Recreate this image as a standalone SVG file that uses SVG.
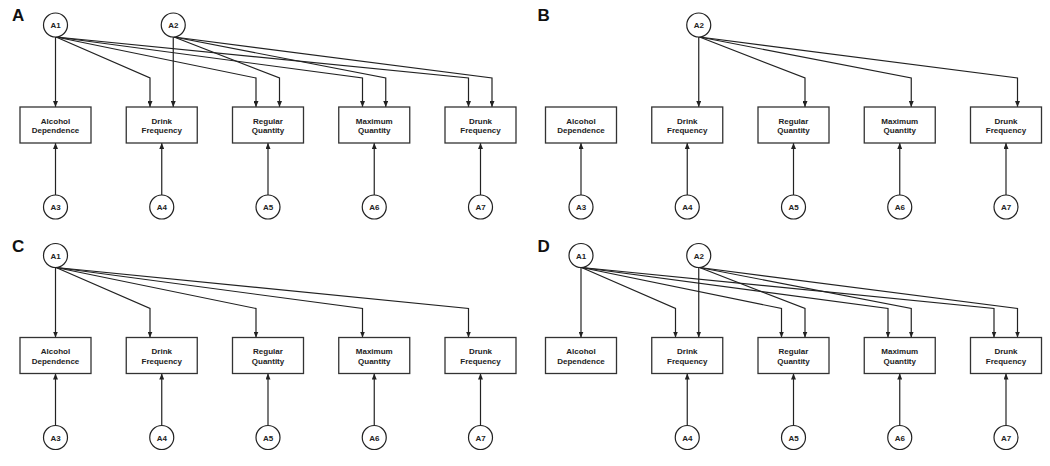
<svg xmlns="http://www.w3.org/2000/svg" width="1050" height="466" viewBox="0 0 1050 466">
<style>
.bg{fill:#fff}
.box{fill:#fff;stroke:#333;stroke-width:1.3}
.lat{fill:#fff;stroke:#222;stroke-width:1.2}
.t{font-family:"Liberation Sans",Arial,sans-serif;font-weight:bold;font-size:8px;fill:#222;text-anchor:middle}
.pl{font-family:"Liberation Sans",Arial,sans-serif;font-weight:bold;font-size:17px;fill:#111}
.c{fill:none;stroke:#222;stroke-width:1.2;marker-end:url(#arr)}
</style>
<defs>
<marker id="arr" viewBox="0 0 6 5" refX="6" refY="2.5" markerWidth="6" markerHeight="5" markerUnits="userSpaceOnUse" orient="auto"><path d="M0,0 L6,2.5 L0,5 z" fill="#222"/></marker>
</defs>
<rect class="bg" x="0" y="0" width="1050" height="466"/>

<!-- Panel A -->
<g id="panelA">
<text class="pl" x="12" y="21">A</text>
<g id="A-connectors">
<path class="c" d="M55.5,37 V107"/>
<path class="c" d="M56,37 L150,78 V107"/>
<path class="c" d="M56,37 L256,78 V107"/>
<path class="c" d="M56,37 L362.5,78 V107"/>
<path class="c" d="M56,37 L468.5,78 V107"/>
<path class="c" d="M173.25,37 V107"/>
<path class="c" d="M174,37 L279.5,78 V107"/>
<path class="c" d="M174,37 L385.75,78 V107"/>
<path class="c" d="M174,37 L492,78 V107"/>
<path class="c" d="M55.5,195 V143"/>
<path class="c" d="M161.75,195 V143"/>
<path class="c" d="M268,195 V143"/>
<path class="c" d="M374.25,195 V143"/>
<path class="c" d="M480.5,195 V143"/>
</g>
<g id="A-A1"><circle class="lat" cx="55.5" cy="25" r="12"/><text class="t" x="55.5" y="28">A1</text></g>
<g id="A-A2"><circle class="lat" cx="173.25" cy="25" r="12"/><text class="t" x="173.25" y="28">A2</text></g>
<g id="A-AD"><rect class="box" x="20" y="107" width="71" height="36"/><text class="t" x="55.5" y="123.5">Alcohol</text><text class="t" x="55.5" y="133">Dependence</text></g>
<g id="A-DF"><rect class="box" x="126.25" y="107" width="71" height="36"/><text class="t" x="161.75" y="123.5">Drink</text><text class="t" x="161.75" y="133">Frequency</text></g>
<g id="A-RQ"><rect class="box" x="232.5" y="107" width="71" height="36"/><text class="t" x="268" y="123.5">Regular</text><text class="t" x="268" y="133">Quantity</text></g>
<g id="A-MQ"><rect class="box" x="338.75" y="107" width="71" height="36"/><text class="t" x="374.25" y="123.5">Maximum</text><text class="t" x="374.25" y="133">Quantity</text></g>
<g id="A-DrF"><rect class="box" x="445" y="107" width="71" height="36"/><text class="t" x="480.5" y="123.5">Drunk</text><text class="t" x="480.5" y="133">Frequency</text></g>
<g id="A-A3"><circle class="lat" cx="55.5" cy="207" r="12"/><text class="t" x="55.5" y="210">A3</text></g>
<g id="A-A4"><circle class="lat" cx="161.75" cy="207" r="12"/><text class="t" x="161.75" y="210">A4</text></g>
<g id="A-A5"><circle class="lat" cx="268" cy="207" r="12"/><text class="t" x="268" y="210">A5</text></g>
<g id="A-A6"><circle class="lat" cx="374.25" cy="207" r="12"/><text class="t" x="374.25" y="210">A6</text></g>
<g id="A-A7"><circle class="lat" cx="480.5" cy="207" r="12"/><text class="t" x="480.5" y="210">A7</text></g>
</g>

<!-- Panel B -->
<g id="panelB" transform="translate(525.5,0)">
<text class="pl" x="12" y="21">B</text>
<g id="B-connectors">
<path class="c" d="M173.25,37 V107"/>
<path class="c" d="M174,37 L279.5,78 V107"/>
<path class="c" d="M174,37 L385.75,78 V107"/>
<path class="c" d="M174,37 L492,78 V107"/>
<path class="c" d="M55.5,195 V143"/>
<path class="c" d="M161.75,195 V143"/>
<path class="c" d="M268,195 V143"/>
<path class="c" d="M374.25,195 V143"/>
<path class="c" d="M480.5,195 V143"/>
</g>
<g id="B-A2"><circle class="lat" cx="173.25" cy="25" r="12"/><text class="t" x="173.25" y="28">A2</text></g>
<g id="B-AD"><rect class="box" x="20" y="107" width="71" height="36"/><text class="t" x="55.5" y="123.5">Alcohol</text><text class="t" x="55.5" y="133">Dependence</text></g>
<g id="B-DF"><rect class="box" x="126.25" y="107" width="71" height="36"/><text class="t" x="161.75" y="123.5">Drink</text><text class="t" x="161.75" y="133">Frequency</text></g>
<g id="B-RQ"><rect class="box" x="232.5" y="107" width="71" height="36"/><text class="t" x="268" y="123.5">Regular</text><text class="t" x="268" y="133">Quantity</text></g>
<g id="B-MQ"><rect class="box" x="338.75" y="107" width="71" height="36"/><text class="t" x="374.25" y="123.5">Maximum</text><text class="t" x="374.25" y="133">Quantity</text></g>
<g id="B-DrF"><rect class="box" x="445" y="107" width="71" height="36"/><text class="t" x="480.5" y="123.5">Drunk</text><text class="t" x="480.5" y="133">Frequency</text></g>
<g id="B-A3"><circle class="lat" cx="55.5" cy="207" r="12"/><text class="t" x="55.5" y="210">A3</text></g>
<g id="B-A4"><circle class="lat" cx="161.75" cy="207" r="12"/><text class="t" x="161.75" y="210">A4</text></g>
<g id="B-A5"><circle class="lat" cx="268" cy="207" r="12"/><text class="t" x="268" y="210">A5</text></g>
<g id="B-A6"><circle class="lat" cx="374.25" cy="207" r="12"/><text class="t" x="374.25" y="210">A6</text></g>
<g id="B-A7"><circle class="lat" cx="480.5" cy="207" r="12"/><text class="t" x="480.5" y="210">A7</text></g>
</g>

<!-- Panel C -->
<g id="panelC" transform="translate(0,230.5)">
<text class="pl" x="12" y="21">C</text>
<g id="C-connectors">
<path class="c" d="M55.5,37 V107"/>
<path class="c" d="M56,37 L150,78 V107"/>
<path class="c" d="M56,37 L256,78 V107"/>
<path class="c" d="M56,37 L362.5,78 V107"/>
<path class="c" d="M56,37 L468.5,78 V107"/>
<path class="c" d="M55.5,195 V143"/>
<path class="c" d="M161.75,195 V143"/>
<path class="c" d="M268,195 V143"/>
<path class="c" d="M374.25,195 V143"/>
<path class="c" d="M480.5,195 V143"/>
</g>
<g id="C-A1"><circle class="lat" cx="55.5" cy="25" r="12"/><text class="t" x="55.5" y="28">A1</text></g>
<g id="C-AD"><rect class="box" x="20" y="107" width="71" height="36"/><text class="t" x="55.5" y="123.5">Alcohol</text><text class="t" x="55.5" y="133">Dependence</text></g>
<g id="C-DF"><rect class="box" x="126.25" y="107" width="71" height="36"/><text class="t" x="161.75" y="123.5">Drink</text><text class="t" x="161.75" y="133">Frequency</text></g>
<g id="C-RQ"><rect class="box" x="232.5" y="107" width="71" height="36"/><text class="t" x="268" y="123.5">Regular</text><text class="t" x="268" y="133">Quantity</text></g>
<g id="C-MQ"><rect class="box" x="338.75" y="107" width="71" height="36"/><text class="t" x="374.25" y="123.5">Maximum</text><text class="t" x="374.25" y="133">Quantity</text></g>
<g id="C-DrF"><rect class="box" x="445" y="107" width="71" height="36"/><text class="t" x="480.5" y="123.5">Drunk</text><text class="t" x="480.5" y="133">Frequency</text></g>
<g id="C-A3"><circle class="lat" cx="55.5" cy="207" r="12"/><text class="t" x="55.5" y="210">A3</text></g>
<g id="C-A4"><circle class="lat" cx="161.75" cy="207" r="12"/><text class="t" x="161.75" y="210">A4</text></g>
<g id="C-A5"><circle class="lat" cx="268" cy="207" r="12"/><text class="t" x="268" y="210">A5</text></g>
<g id="C-A6"><circle class="lat" cx="374.25" cy="207" r="12"/><text class="t" x="374.25" y="210">A6</text></g>
<g id="C-A7"><circle class="lat" cx="480.5" cy="207" r="12"/><text class="t" x="480.5" y="210">A7</text></g>
</g>

<!-- Panel D -->
<g id="panelD" transform="translate(525.5,230.5)">
<text class="pl" x="12" y="21">D</text>
<g id="D-connectors">
<path class="c" d="M55.5,37 V107"/>
<path class="c" d="M56,37 L150,78 V107"/>
<path class="c" d="M56,37 L256,78 V107"/>
<path class="c" d="M56,37 L362.5,78 V107"/>
<path class="c" d="M56,37 L468.5,78 V107"/>
<path class="c" d="M173.25,37 V107"/>
<path class="c" d="M174,37 L279.5,78 V107"/>
<path class="c" d="M174,37 L385.75,78 V107"/>
<path class="c" d="M174,37 L492,78 V107"/>
<path class="c" d="M161.75,195 V143"/>
<path class="c" d="M268,195 V143"/>
<path class="c" d="M374.25,195 V143"/>
<path class="c" d="M480.5,195 V143"/>
</g>
<g id="D-A1"><circle class="lat" cx="55.5" cy="25" r="12"/><text class="t" x="55.5" y="28">A1</text></g>
<g id="D-A2"><circle class="lat" cx="173.25" cy="25" r="12"/><text class="t" x="173.25" y="28">A2</text></g>
<g id="D-AD"><rect class="box" x="20" y="107" width="71" height="36"/><text class="t" x="55.5" y="123.5">Alcohol</text><text class="t" x="55.5" y="133">Dependence</text></g>
<g id="D-DF"><rect class="box" x="126.25" y="107" width="71" height="36"/><text class="t" x="161.75" y="123.5">Drink</text><text class="t" x="161.75" y="133">Frequency</text></g>
<g id="D-RQ"><rect class="box" x="232.5" y="107" width="71" height="36"/><text class="t" x="268" y="123.5">Regular</text><text class="t" x="268" y="133">Quantity</text></g>
<g id="D-MQ"><rect class="box" x="338.75" y="107" width="71" height="36"/><text class="t" x="374.25" y="123.5">Maximum</text><text class="t" x="374.25" y="133">Quantity</text></g>
<g id="D-DrF"><rect class="box" x="445" y="107" width="71" height="36"/><text class="t" x="480.5" y="123.5">Drunk</text><text class="t" x="480.5" y="133">Frequency</text></g>
<g id="D-A4"><circle class="lat" cx="161.75" cy="207" r="12"/><text class="t" x="161.75" y="210">A4</text></g>
<g id="D-A5"><circle class="lat" cx="268" cy="207" r="12"/><text class="t" x="268" y="210">A5</text></g>
<g id="D-A6"><circle class="lat" cx="374.25" cy="207" r="12"/><text class="t" x="374.25" y="210">A6</text></g>
<g id="D-A7"><circle class="lat" cx="480.5" cy="207" r="12"/><text class="t" x="480.5" y="210">A7</text></g>
</g>
</svg>
